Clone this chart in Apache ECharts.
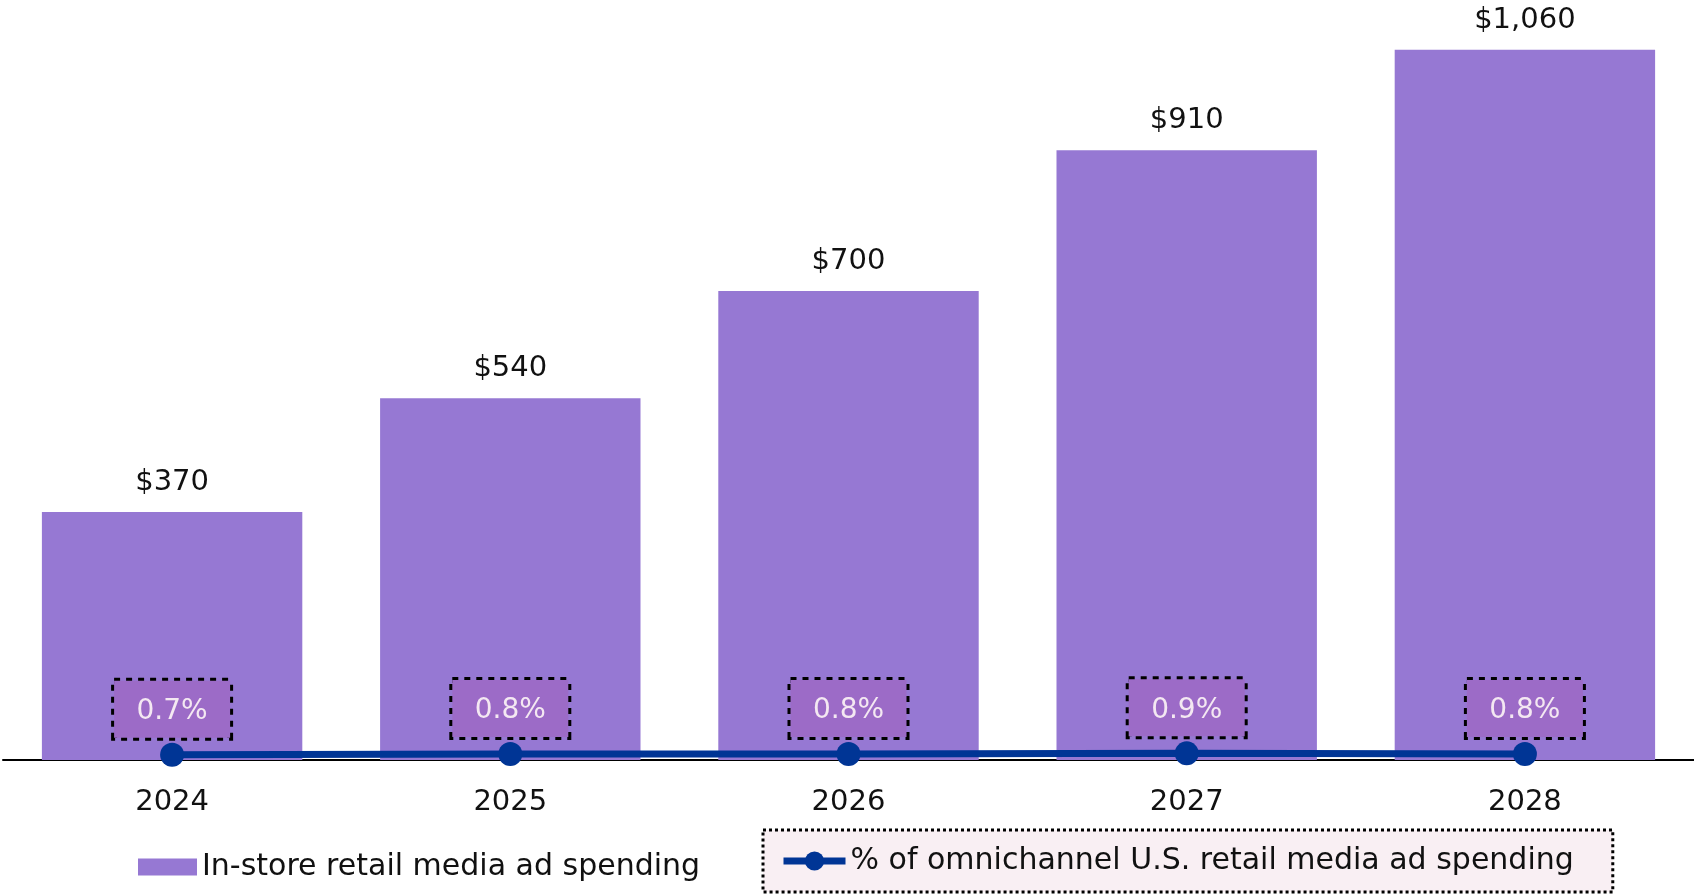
<!DOCTYPE html>
<html>
<head>
<meta charset="utf-8">
<script src="https://cdn.jsdelivr.net/npm/echarts@6/dist/echarts.min.js"></script>
<style>
  html, body { margin: 0; padding: 0; background: #fff; }
  #main { width: 1694px; height: 894px; }
</style>
</head>
<body>
<div id="main"></div>
<script>
// chart data
var years = ['2024', '2025', '2026', '2027', '2028'];
var spend = [370, 540, 700, 910, 1060];          // in-store retail media ad spending ($)
var share = [0.7, 0.8, 0.8, 0.9, 0.8];           // % of omnichannel spending

var barName = 'In-store retail media ad spending';
var lineName = '% of omnichannel U.S. retail media ad spending';
var font = '"DejaVu Sans", sans-serif';

var myChart = echarts.init(document.getElementById('main'));

var option = {
  animation: false,
  textStyle: { fontFamily: font },
  grid: { left: 3, right: 0, top: 23, bottom: 134 },
  legend: [{
    data: [{ name: barName, icon: 'rect' }],
    left: 133,
    top: 847,
    itemWidth: 59,
    itemHeight: 17,
    textStyle: { fontSize: 30, color: '#111', fontFamily: font }
  }, {
    data: [lineName],
    left: 763,
    top: 830,
    padding: [16, 39, 16, 17],
    itemWidth: 62,
    itemHeight: 24,
    backgroundColor: '#f9eff3',
    borderColor: '#000',
    borderWidth: 3,
    borderType: 'dotted',
    lineStyle: { width: 7 },
    textStyle: { fontSize: 30, color: '#111', fontFamily: font }
  }],
  xAxis: {
    type: 'category',
    data: years,
    axisLine: { lineStyle: { color: '#000', width: 2 } },
    axisTick: { show: false },
    axisLabel: { fontSize: 29, color: '#111', margin: 28, fontFamily: font }
  },
  yAxis: [
    { type: 'value', min: 0, max: 1100, show: false },
    { type: 'value', min: 0, max: 100, show: false }
  ],
  series: [{
    name: barName,
    type: 'bar',
    data: spend,
    barCategoryGap: '23%',
    itemStyle: { color: '#9678d3' },
    label: {
      show: true,
      position: 'top',
      distance: 15,
      fontSize: 29,
      color: '#111',
      fontFamily: font,
      formatter: function (p) { return '$' + p.value.toLocaleString('en-US'); }
    }
  }, {
    name: lineName,
    type: 'line',
    yAxisIndex: 1,
    data: share,
    symbol: 'circle',
    symbolSize: 24,
    lineStyle: { color: '#003595', width: 7 },
    itemStyle: { color: '#003595' },
    label: {
      show: true,
      position: 'top',
      distance: 5,
      fontSize: 28,
      color: '#f4e8f2',
      fontFamily: font,
      width: 84,
      height: 33,
      align: 'center',
      padding: [12, 16, 12, 16],
      backgroundColor: '#9c6bc7',
      borderColor: '#000',
      borderWidth: 3,
      borderType: 'dotted',
      formatter: function (p) { return p.value.toFixed(1) + '%'; }
    }
  }]
};

myChart.setOption(option);
</script>
</body>
</html>
